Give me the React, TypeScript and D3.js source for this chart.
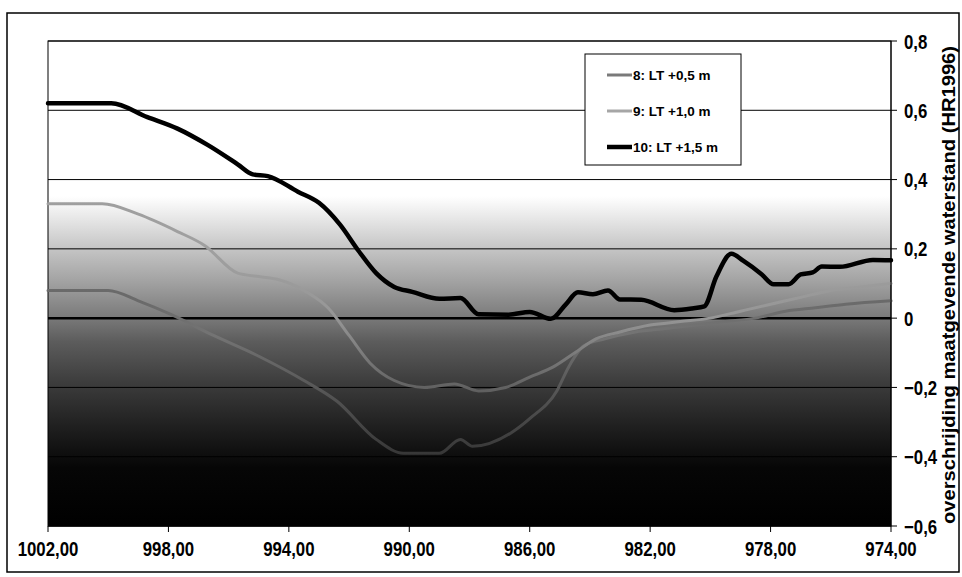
import React from "react";
import * as d3 from "d3";

// ---- data ----
const xTicks = [1002, 998, 994, 990, 986, 982, 978, 974];
const yTicks = [0.8, 0.6, 0.4, 0.2, 0, -0.2, -0.4, -0.6];

const km8 = [1002, 1000, 999, 997.9, 996.5, 995, 993.5, 992.4, 991.1, 990.2, 989.0, 988.3, 987.9, 986.6, 986.0, 985.1, 984.7, 984.2, 983.5, 982.5, 981.5, 980.5, 979.5, 978.5, 977.5, 976.5, 975.5, 974];
const val8 = [0.08, 0.08, 0.05, 0.01, -0.05, -0.11, -0.18, -0.24, -0.35, -0.39, -0.39, -0.35, -0.37, -0.33, -0.29, -0.21, -0.14, -0.08, -0.06, -0.04, -0.03, -0.02, -0.01, 0.0, 0.02, 0.03, 0.04, 0.05];

const km9 = [1002, 1000.2, 999, 997.7, 996.8, 995.7, 995.0, 994.3, 993.4, 992.7, 992.0, 991.3, 990.5, 989.5, 988.5, 987.7, 986.8, 986.0, 985.2, 984.5, 983.8, 983.0, 982.0, 981.0, 980.0, 979.0, 978.0, 977.0, 976.0, 975.0, 974];
const val9 = [0.33, 0.33, 0.30, 0.25, 0.21, 0.13, 0.12, 0.11, 0.075, 0.03, -0.05, -0.13, -0.18, -0.2, -0.19, -0.21, -0.2, -0.17, -0.14, -0.1, -0.06, -0.04, -0.02, -0.01, 0.0, 0.02, 0.04, 0.06, 0.08, 0.09, 0.1];

const km10 = [1002, 999.9, 998.7, 997.7, 996.7, 995.7, 995.2, 994.7, 993.7, 993.0, 992.3, 991.7, 991.1, 990.5, 989.9, 989.0, 988.3, 987.7, 986.7, 986.0, 985.3, 984.8, 984.4, 983.9, 983.4, 983.0, 982.3, 981.2, 980.6, 980.2, 979.8, 979.3, 978.9, 978.3, 977.9, 977.4, 977.0, 976.6, 976.3, 975.7, 974.6, 974];
const val10 = [0.62, 0.62, 0.58, 0.547, 0.5, 0.444, 0.415, 0.41, 0.365, 0.333, 0.27, 0.196, 0.13, 0.09, 0.076, 0.056, 0.058, 0.011, 0.01, 0.018, -0.002, 0.04, 0.075, 0.069, 0.08, 0.054, 0.053, 0.023, 0.028, 0.034, 0.12, 0.186, 0.165, 0.127, 0.098, 0.098, 0.126, 0.132, 0.149, 0.148, 0.168, 0.167];

const seriesNames = ["8: LT +0,5 m", "9: LT +1,0 m", "10: LT +1,5 m"];
const axisTitle = "overschrijding maatgevende waterstand (HR1996)";

// ---- layout ----
const W = 962;
const H = 577;
const L = 48, R = 891, T = 41, B = 526;

const fmtX = (v: number) => d3.format(".2f")(v).replace(".", ",");
const fmtY = (v: number) => (v === 0 ? "0" : d3.format(".1f")(v).replace(".", ","));

export default function App() {
  const x = d3.scaleLinear().domain([1002, 974]).range([L, R]);
  const y = d3.scaleLinear().domain([-0.6, 0.8]).range([B, T]);

  const line = d3
    .line<[number, number]>()
    .x((d) => x(d[0]))
    .y((d) => y(d[1]))
    .curve(d3.curveMonotoneX);

  const s8 = km8.map((k, i) => [k, val8[i]] as [number, number]);
  const s9 = km9.map((k, i) => [k, val9[i]] as [number, number]);
  const s10 = km10.map((k, i) => [k, val10[i]] as [number, number]);

  const series = [
    { name: seriesNames[0], data: s8, stroke: "url(#ln8)", legend: "#7a7a7a", width: 3 },
    { name: seriesNames[1], data: s9, stroke: "url(#ln9)", legend: "#a6a6a6", width: 3 },
    { name: seriesNames[2], data: s10, stroke: "#000000", legend: "#000000", width: 4.5 },
  ];

  const tickFont = "'Liberation Sans',Arial,sans-serif";
  const legX = 585, legY = 54, legW = 156, legH = 111;
  const off = (v: number) => (y(v) - T) / (B - T);

  return (
    <svg width={W} height={H} style={{ position: "absolute", left: 0, top: 0, background: "#fff" }}>
      <defs>
        <linearGradient id="bg" x1="0" y1="0" x2="0" y2="1">
          <stop offset="0" stopColor="#ffffff" />
          <stop offset="0.32" stopColor="#ffffff" />
          <stop offset="0.36" stopColor="#eaeaea" />
          <stop offset="0.43" stopColor="#c4c4c4" />
          <stop offset="0.5" stopColor="#a0a0a0" />
          <stop offset="0.57" stopColor="#7a7a7a" />
          <stop offset="0.62" stopColor="#5c5c5c" />
          <stop offset="0.7" stopColor="#3e3e3e" />
          <stop offset="0.8" stopColor="#1e1e1e" />
          <stop offset="0.88" stopColor="#060606" />
          <stop offset="1" stopColor="#000000" />
        </linearGradient>
        <linearGradient id="ln8" gradientUnits="userSpaceOnUse" x1="0" x2="0" y1={y(0.8)} y2={y(-0.6)}>
          <stop offset="0" stopColor="#6e6e6e" />
          <stop offset={off(0.05)} stopColor="#6a6a6a" />
          <stop offset={off(-0.05)} stopColor="#747474" />
          <stop offset={off(-0.2)} stopColor="#585858" />
          <stop offset={off(-0.4)} stopColor="#363636" />
          <stop offset="1" stopColor="#262626" />
        </linearGradient>
        <linearGradient id="ln9" gradientUnits="userSpaceOnUse" x1="0" x2="0" y1={y(0.8)} y2={y(-0.6)}>
          <stop offset="0" stopColor="#9a9a9a" />
          <stop offset={off(0.2)} stopColor="#a0a0a0" />
          <stop offset={off(0)} stopColor="#969696" />
          <stop offset={off(-0.2)} stopColor="#626262" />
          <stop offset={off(-0.4)} stopColor="#3c3c3c" />
          <stop offset="1" stopColor="#2a2a2a" />
        </linearGradient>
      </defs>

      {/* outer chart border */}
      <rect x={7} y={13} width={952} height={559} fill="none" stroke="#000" strokeWidth={1.5} />

      {/* plot area */}
      <rect x={L} y={T} width={R - L} height={B - T} fill="url(#bg)" stroke="#000" strokeWidth={1} />

      {/* gridlines */}
      {yTicks.map((t) => (
        <line
          key={"g" + t}
          x1={L}
          x2={R}
          y1={y(t)}
          y2={y(t)}
          stroke="#000"
          strokeWidth={t === 0 ? 2.5 : 1}
        />
      ))}

      {/* series */}
      {series.map((s) => (
        <path
          key={s.name}
          d={line(s.data) || ""}
          fill="none"
          stroke={s.stroke}
          strokeWidth={s.width}
          strokeLinejoin="round"
          strokeLinecap="round"
        />
      ))}

      {/* right axis */}
      <line x1={R} x2={R} y1={T} y2={B} stroke="#000" strokeWidth={1} />
      {yTicks.map((t) => (
        <g key={"yt" + t}>
          <line x1={R} x2={R + 6} y1={y(t)} y2={y(t)} stroke="#000" strokeWidth={1} />
          <text
            transform={`translate(${R + 13},${y(t)}) scale(0.8,1)`}
            dy="0.36em"
            fontFamily={tickFont}
            fontSize={21}
            fontWeight="bold"
            fill="#000"
          >
            {fmtY(t)}
          </text>
        </g>
      ))}

      {/* bottom axis */}
      <line x1={L} x2={R} y1={B} y2={B} stroke="#000" strokeWidth={1} />
      {xTicks.map((t) => (
        <g key={"xt" + t}>
          <line x1={x(t)} x2={x(t)} y1={B} y2={B + 6} stroke="#000" strokeWidth={1} />
          <text
            transform={`translate(${x(t)},556) scale(0.8,1)`}
            textAnchor="middle"
            fontFamily={tickFont}
            fontSize={21}
            fontWeight="bold"
            fill="#000"
          >
            {fmtX(t)}
          </text>
        </g>
      ))}

      {/* axis title */}
      <text
        transform={`translate(955,285) rotate(-90)`}
        textAnchor="middle"
        fontFamily="'Liberation Sans',Arial,sans-serif"
        fontSize={18}
        fontWeight="bold"
        textLength={478}
        lengthAdjust="spacingAndGlyphs"
        fill="#000"
      >
        {axisTitle}
      </text>

      {/* legend */}
      <rect x={legX} y={legY} width={legW} height={legH} fill="#fff" stroke="#000" strokeWidth={1} />
      {series.map((s, i) => {
        const cy = legY + 21 + i * 36;
        return (
          <g key={"leg" + i}>
            <line x1={legX + 22} x2={legX + 47} y1={cy} y2={cy} stroke={s.legend} strokeWidth={s.width} />
            <text
              x={legX + 48}
              y={cy}
              dy="0.36em"
              fontFamily="'Liberation Sans',Arial,sans-serif"
              fontSize={13.5}
              fontWeight="bold"
              fill="#000"
            >
              {s.name}
            </text>
          </g>
        );
      })}
    </svg>
  );
}
